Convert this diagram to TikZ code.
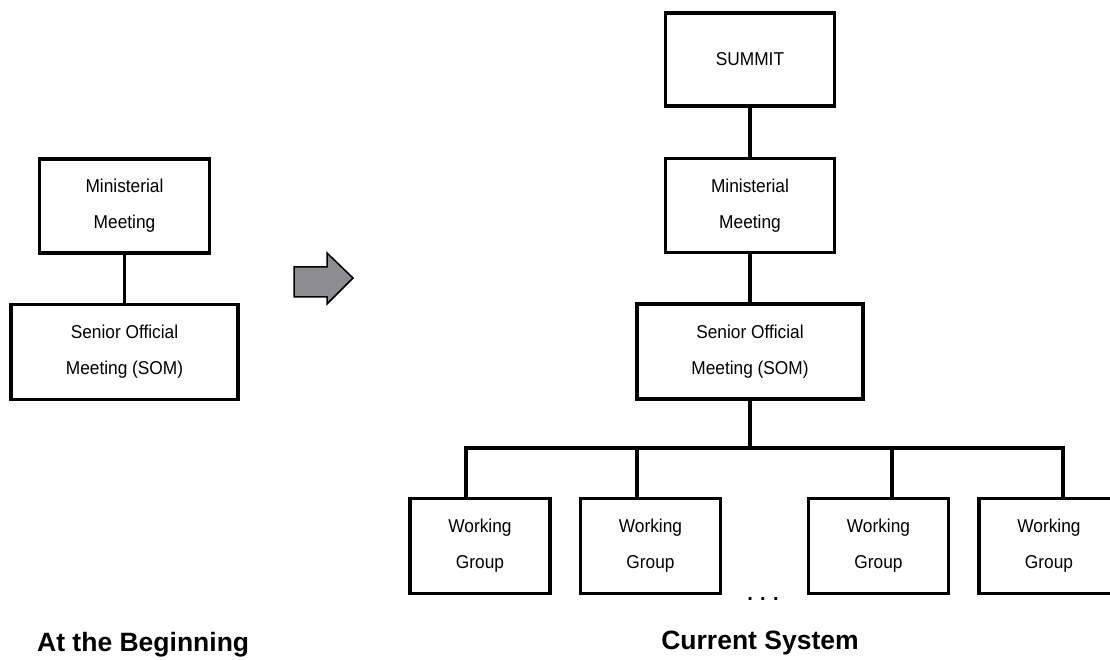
\documentclass[tikz,border=0pt]{standalone}
\usepackage{fontspec}
\setmainfont{Liberation Sans}
\newfontfamily\boxfont{Liberation Sans}[FakeStretch=0.93]
\usepackage{tikz}
\definecolor{arrowGray}{HTML}{8E8E92}
\usetikzlibrary{positioning}
\tikzset{font=\boxfont\fontsize{18.6}{36}\selectfont}
\tikzstyle{box} = [rectangle, minimum width=169pt, minimum height=94pt,%
inner sep=0pt, text centered, align=center, draw=black, line width=3.3pt]
\tikzstyle{wide} = [box, minimum width=226pt, minimum height=95pt]
\tikzstyle{group} = [box, minimum width=140pt, minimum height=95pt]
\tikzstyle{caption} = [inner sep=0pt, font=\rmfamily\fontsize{26.5}{30}\selectfont\bfseries]
\tikzstyle{line} = [line width=3.3pt]
\tikzstyle{blockarrow} = [line width=1.5pt, fill=arrowGray, line join=miter]

\begin{document}
\begin{tikzpicture}[x=1pt, y=1pt, node distance=146pt]
    \useasboundingbox (0,0) rectangle (1110,660);

    % at the beginning
    \node (oldMin) [box, minimum width=170pt] at (124.5,454) {Ministerial\\Meeting};
    \node (oldSom) [wide, minimum width=227pt, below of=oldMin] {Senior Official\\Meeting (SOM)};
    \node (oldCap) [caption, anchor=base west] at (37,8) {At the Beginning};

    % arrow between the two systems
    \draw [blockarrow] (294,393) -- (327,393) -- (327,407) -- (353,382) -- (327,356)%
      -- (327,363) -- (294,363) -- cycle;

    % current system
    \node (summit) [box, minimum height=93pt] at (750,600.5) {SUMMIT};
    \node (newMin) [box, below of=summit] {Ministerial\\Meeting};
    \node (newSom) [wide, below of=newMin] {Senior Official\\Meeting (SOM)};

    \node (wgA) [group] at (480,114) {Working\\Group};
    \node (wgB) [group] at (650.5,114) {Working\\Group};
    \node (wgC) [group] at (878.5,114) {Working\\Group};
    \node (wgD) [group] at (1049,114) {Working\\Group};
    \node (more) [font=\rmfamily\fontsize{20}{24}\selectfont\bfseries, anchor=base] at (763,59.5) {. . .};
    \node (newCap) [caption, anchor=base] at (760,10) {Current System};

    \coordinate (busA) at (466,212);
    \coordinate (busB) at (637,212);
    \coordinate (busC) at (892,212);
    \coordinate (busD) at (1063,212);

    \draw [line] (oldMin) -- (oldSom);
    \draw [line] (summit) -- (newMin);
    \draw [line] (newMin) -- (newSom);
    \draw [line] (newSom) -- (newSom |- busA);
    \draw [line] (busA |- wgA.north) -- (busA) -- (busD) -- (busD |- wgD.north);
    \draw [line] (busB) -- (busB |- wgB.north);
    \draw [line] (busC) -- (busC |- wgC.north);
\end{tikzpicture}
\end{document}
